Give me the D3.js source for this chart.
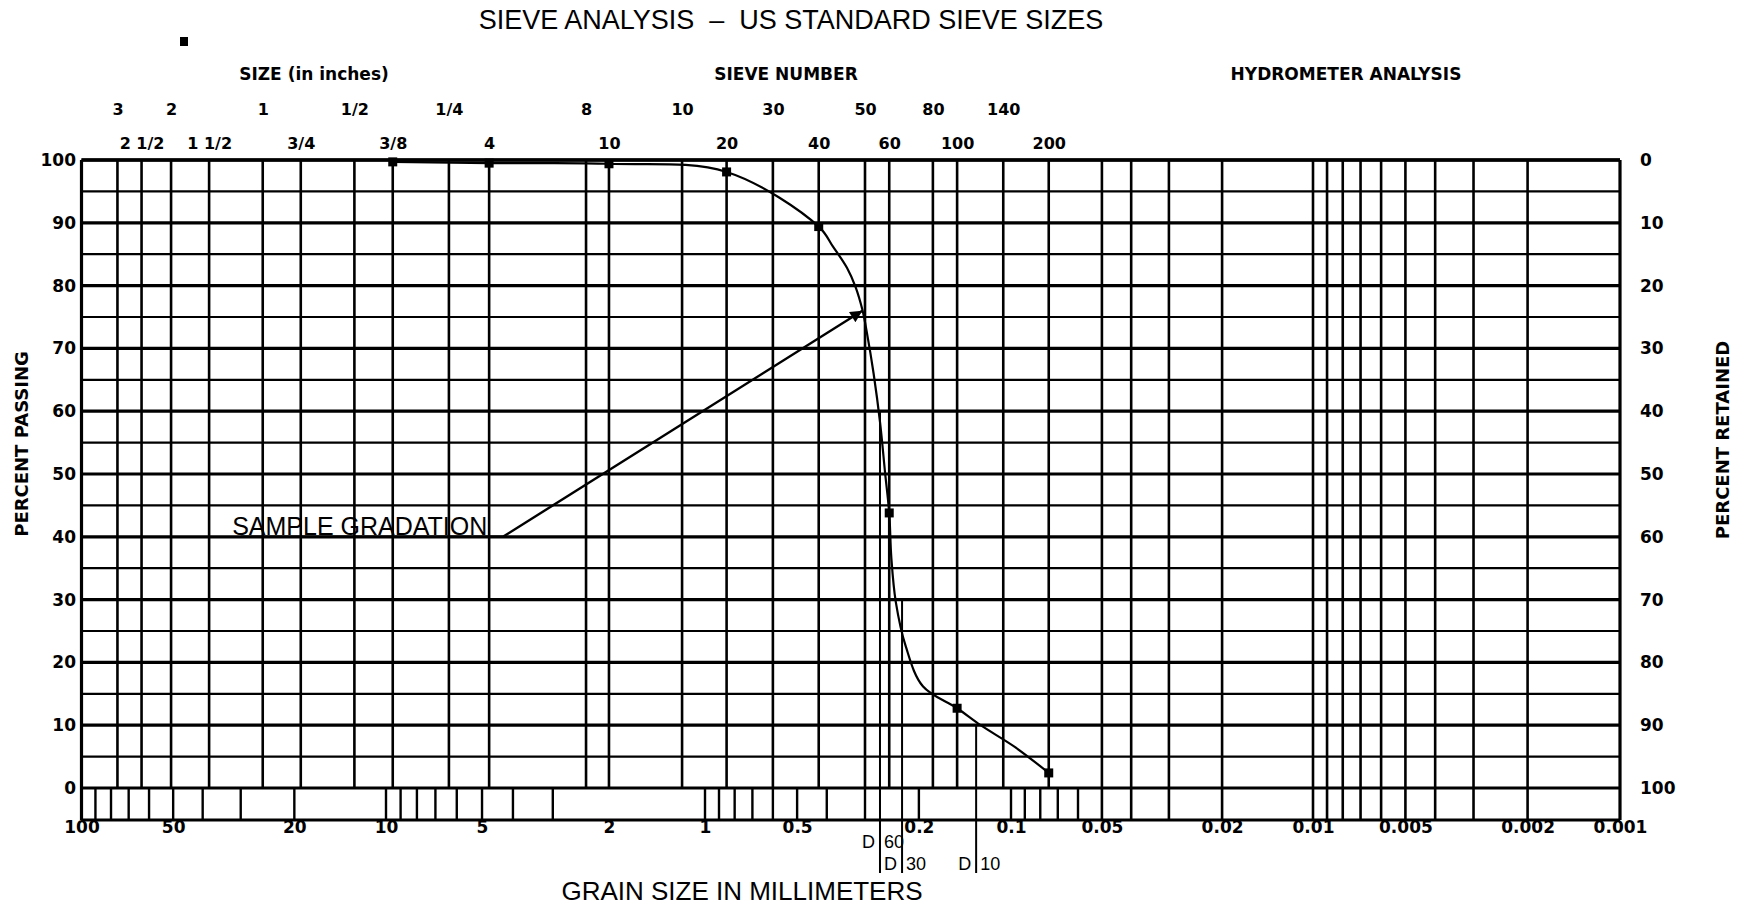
<!DOCTYPE html>
<html>
<head>
<meta charset="utf-8">
<script src="https://cdn.jsdelivr.net/npm/d3@7"></script>
<style>
body { margin: 0; background: #fff; }
svg { display: block; background: #fff; }
</style>
</head>
<body>
<svg id="chart" width="1749" height="905"></svg>
<script>
// ---------- data ----------
// sieve openings (mm) printed on the upper label row and the lower label row
const rowOneSizes  = [76.2, 50.8, 25.4, 12.7, 6.35, 2.36, 1.18, 0.6, 0.3, 0.18, 0.106];
const rowOneLabels = ["3", "2", "1", "1/2", "1/4", "8", "10", "30", "50", "80", "140"];
const rowTwoSizes  = [63.5, 38.1, 19.05, 9.525, 4.75, 2.0, 0.85, 0.425, 0.25, 0.15, 0.075];
const rowTwoLabels = ["2 1/2", "1 1/2", "3/4", "3/8", "4", "10", "20", "40", "60", "100", "200"];

// hydrometer range grid lines (mm)
const hydroLines = [0.05, 0.04, 0.03, 0.02, 0.01, 0.009, 0.008, 0.007, 0.006, 0.005, 0.004, 0.003, 0.002];

// short log ticks in the strip under the grid (mm)
const stripTicks = [90, 80, 70, 60, 50, 40, 30, 20, 10, 9, 8, 7, 6, 5, 4, 3, 1,
  0.9, 0.8, 0.7, 0.6, 0.5, 0.4, 0.3, 0.2, 0.1, 0.09, 0.08, 0.07, 0.06];

// grain size labels
const mmLabels = [100, 50, 20, 10, 5, 2, 1, 0.5, 0.2, 0.1, 0.05, 0.02, 0.01, 0.005, 0.002, 0.001];

// percent ticks
const passTicks = [0, 10, 20, 30, 40, 50, 60, 70, 80, 90, 100];
const retainTicks = [0, 10, 20, 30, 40, 50, 60, 70, 80, 90, 100];

// sieve test results
const testSize = [9.525, 4.75, 2.0, 0.85, 0.425, 0.25, 0.15, 0.075];
const testPass = [99.7, 99.5, 99.4, 98.1, 89.4, 43.8, 12.7, 2.4];

// gradation curve as drawn
const curveSize = [9.525, 4.75, 2.0, 0.85, 0.425, 0.3816, 0.3433, 0.3222, 0.3058,
  0.2955, 0.2812, 0.2677, 0.2578, 0.25, 0.2461, 0.2379, 0.2206, 0.1941, 0.15, 0.1257, 0.0969, 0.075];
const curvePass = [99.7, 99.5, 99.4, 98.1, 89.4, 86.2, 82.8, 79.8, 76.1,
  72.4, 66.0, 58.1, 50.1, 43.8, 36.7, 29.6, 22.5, 16.2, 12.7, 10.0, 6.5, 2.4];

// D60 / D30 / D10
const dSize = [0.268, 0.227, 0.130];
const dPass = [60, 30, 10];
const dName = ["60", "30", "10"];

// ---------- setup ----------
const svg = d3.select("#chart");

const top0 = 160, bot0 = 788, stripBot = 820;

// printed log paper, knots at each decade
const x = d3.scaleLog()
  .domain([100, 10, 1, 0.1, 0.01, 0.001])
  .range([81.5, 386, 705, 1011, 1313, 1620]);

const y = d3.scaleLinear().domain([0, 100]).range([bot0, top0]);
const yRet = d3.scaleLinear().domain([0, 100]).range([top0, bot0]);

const boldFont = "'DejaVu Sans', sans-serif";
const thinFont = "'Liberation Sans', Arial, sans-serif";

const g = svg.append("g");

/* GRID */

g.selectAll(".hgrid")
  .data(d3.range(0, 101, 5))
  .join("line")
  .attr("x1", x(100)).attr("x2", x(0.001))
  .attr("y1", d => y(d)).attr("y2", d => y(d))
  .attr("stroke", "#000")
  .attr("stroke-width", d => d % 10 === 0 ? 3.2 : 2.2);

const sieveLines = rowOneSizes.concat(rowTwoSizes);

g.selectAll(".vsieve")
  .data(sieveLines)
  .join("line")
  .attr("x1", d => x(d)).attr("x2", d => x(d))
  .attr("y1", top0).attr("y2", bot0)
  .attr("stroke", "#000").attr("stroke-width", 2.6);

g.selectAll(".vhydro")
  .data(hydroLines)
  .join("line")
  .attr("x1", d => x(d)).attr("x2", d => x(d))
  .attr("y1", top0).attr("y2", stripBot)
  .attr("stroke", "#000").attr("stroke-width", 2.6);

g.selectAll(".vstrip")
  .data(stripTicks)
  .join("line")
  .attr("x1", d => x(d)).attr("x2", d => x(d))
  .attr("y1", bot0).attr("y2", stripBot)
  .attr("stroke", "#000").attr("stroke-width", 2.4);

// frame
g.append("line").attr("x1", x(100)).attr("x2", x(0.001)).attr("y1", top0).attr("y2", top0)
  .attr("stroke", "#000").attr("stroke-width", 3.6);
g.append("line").attr("x1", x(100)).attr("x2", x(0.001)).attr("y1", stripBot).attr("y2", stripBot)
  .attr("stroke", "#000").attr("stroke-width", 3);
g.append("line").attr("x1", x(100)).attr("x2", x(100)).attr("y1", top0).attr("y2", stripBot)
  .attr("stroke", "#000").attr("stroke-width", 3.2);
g.append("line").attr("x1", x(0.001)).attr("x2", x(0.001)).attr("y1", top0).attr("y2", stripBot)
  .attr("stroke", "#000").attr("stroke-width", 3.2);

/* D LINES */

const dData = dSize.map((s, i) => ({ s, p: dPass[i], name: dName[i] }));

g.selectAll(".dline")
  .data(dData)
  .join("line")
  .attr("x1", d => x(d.s)).attr("x2", d => x(d.s))
  .attr("y1", d => y(d.p)).attr("y2", stripBot + 53)
  .attr("stroke", "#000").attr("stroke-width", 2);

const dLabels = g.selectAll(".dlab")
  .data(dData)
  .join("g")
  .attr("transform", (d, i) => `translate(${x(d.s)},${i === 0 ? 848 : 870})`)
  .attr("font-family", thinFont)
  .attr("font-size", 18);

dLabels.append("text").attr("x", -5).attr("text-anchor", "end").text("D");
dLabels.append("text").attr("x", 4).attr("text-anchor", "start").text(d => d.name);

/* CURVE + POINTS */

const curvePts = curveSize.map((s, i) => [x(s), y(curvePass[i])]);

g.append("path")
  .attr("d", d3.line().curve(d3.curveCatmullRom.alpha(0.5))(curvePts))
  .attr("fill", "none")
  .attr("stroke", "#000")
  .attr("stroke-width", 2.2);

g.selectAll(".pt")
  .data(testSize.map((s, i) => ({ s, p: testPass[i] })))
  .join("rect")
  .attr("x", d => x(d.s) - 4.5)
  .attr("y", d => y(d.p) - 4.5)
  .attr("width", 9).attr("height", 9)
  .attr("fill", "#000");

// stray marker near the top left of the sheet
svg.append("rect").attr("x", 180).attr("y", 37).attr("width", 8).attr("height", 9).attr("fill", "#000");

/* SAMPLE GRADATION LEADER */

svg.append("defs").append("marker")
  .attr("id", "arrow")
  .attr("viewBox", "0 0 10 10")
  .attr("refX", 10).attr("refY", 5)
  .attr("markerWidth", 7).attr("markerHeight", 5)
  .attr("orient", "auto")
  .append("path").attr("d", "M0,0 L10,5 L0,10 z").attr("fill", "#000");

g.append("path")
  .attr("d", d3.line()([[x(30), y(40)], [x(4.3), y(40)], [x(0.306), y(76)]]))
  .attr("fill", "none")
  .attr("stroke", "#000")
  .attr("stroke-width", 2.4)
  .attr("marker-end", "url(#arrow)");

g.append("text")
  .attr("x", x(32)).attr("y", y(40) - 2)
  .attr("font-family", thinFont)
  .attr("font-size", 25)
  .text("SAMPLE GRADATION");

/* AXES */

function styleAxis(sel, size) {
  sel.select(".domain").remove();
  sel.attr("font-family", boldFont).attr("font-size", size).attr("font-weight", "bold");
  sel.selectAll("text").attr("fill", "#000");
}

svg.append("g")
  .attr("transform", "translate(76,0)")
  .call(d3.axisLeft(y).tickValues(passTicks).tickSize(0).tickPadding(0))
  .call(styleAxis, 17);

svg.append("g")
  .attr("transform", "translate(1640,0)")
  .call(d3.axisRight(yRet).tickValues(retainTicks).tickSize(0).tickPadding(0))
  .call(styleAxis, 17);

svg.append("g")
  .attr("transform", `translate(0,${stripBot})`)
  .call(d3.axisBottom(x).tickValues(mmLabels).tickFormat(d => String(d)).tickSize(0).tickPadding(1))
  .call(styleAxis, 17);

const rowOneMap = new Map(rowOneSizes.map((s, i) => [s, rowOneLabels[i]]));
const rowTwoMap = new Map(rowTwoSizes.map((s, i) => [s, rowTwoLabels[i]]));

svg.append("g")
  .attr("transform", "translate(0,115)")
  .call(d3.axisTop(x).tickValues(rowOneSizes).tickFormat(d => rowOneMap.get(d)).tickSize(0).tickPadding(0))
  .call(styleAxis, 16);

svg.append("g")
  .attr("transform", "translate(0,149)")
  .call(d3.axisTop(x).tickValues(rowTwoSizes).tickFormat(d => rowTwoMap.get(d)).tickSize(0).tickPadding(0))
  .call(styleAxis, 16);

/* TITLES */

svg.append("text")
  .attr("x", 791).attr("y", 29)
  .attr("text-anchor", "middle")
  .attr("font-family", thinFont).attr("font-size", 27)
  .attr("xml:space", "preserve")
  .text("SIEVE ANALYSIS  \u2013  US STANDARD SIEVE SIZES");

const heads = [["SIZE (in inches)", 314], ["SIEVE NUMBER", 786], ["HYDROMETER ANALYSIS", 1346]];
svg.selectAll(".head")
  .data(heads)
  .join("text")
  .attr("x", d => d[1]).attr("y", 80)
  .attr("text-anchor", "middle")
  .attr("font-family", boldFont).attr("font-size", 17).attr("font-weight", "bold")
  .text(d => d[0]);

svg.append("text")
  .attr("transform", "translate(28,444) rotate(-90)")
  .attr("text-anchor", "middle")
  .attr("font-family", boldFont).attr("font-size", 18).attr("font-weight", "bold")
  .text("PERCENT PASSING");

svg.append("text")
  .attr("transform", "translate(1729,440) rotate(-90)")
  .attr("text-anchor", "middle")
  .attr("font-family", boldFont).attr("font-size", 18).attr("font-weight", "bold")
  .text("PERCENT RETAINED");

svg.append("text")
  .attr("x", 742).attr("y", 900)
  .attr("text-anchor", "middle")
  .attr("font-family", thinFont).attr("font-size", 26)
  .text("GRAIN SIZE IN MILLIMETERS");
</script>
</body>
</html>
